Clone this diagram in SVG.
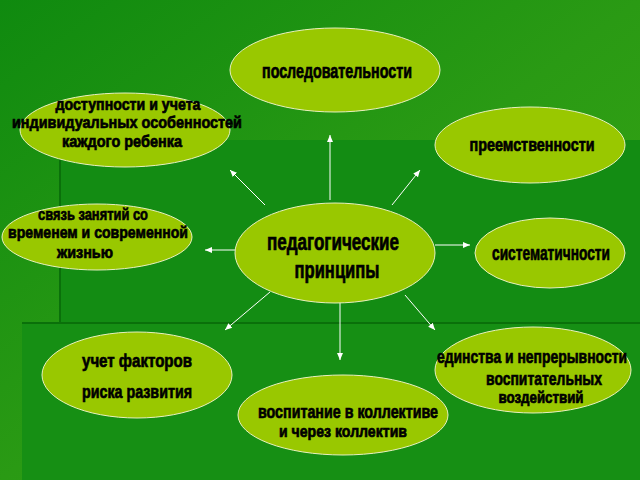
<svg xmlns="http://www.w3.org/2000/svg" width="640" height="480" viewBox="0 0 640 480">
<defs>
<linearGradient id="bg" x1="0" y1="0" x2="1" y2="1"><stop offset="0" stop-color="#0f8a0f"/><stop offset="0.5" stop-color="#2a9a14"/><stop offset="1" stop-color="#3aa812"/></linearGradient>
<marker id="ah" markerWidth="8" markerHeight="8" refX="7" refY="4" orient="auto" markerUnits="userSpaceOnUse"><path d="M0,1 L7,4 L0,7 Z" fill="#fff"/></marker>
<style>
.n{fill:#99c800;stroke:#e8f0c0;stroke-width:1}
.t{font-family:"Liberation Sans",Arial,sans-serif;font-weight:bold;fill:#000;stroke:#000;stroke-width:0.7;text-anchor:middle}
.c{stroke:#fff;stroke-width:1;marker-end:url(#ah);fill:none}
</style>
</defs>
<rect width="640" height="480" fill="url(#bg)"/>
<rect x="60" y="140" width="580" height="340" fill="#138c13"/>
<rect x="22" y="323" width="618" height="157" fill="#168f14"/>
<line x1="60" y1="140" x2="60" y2="323" stroke="#0a700a" stroke-width="2"/>
<line x1="22" y1="323" x2="640" y2="323" stroke="#0a700a" stroke-width="2"/>
<g id="connectors">
<line class="c" x1="330" y1="200" x2="330" y2="135"/>
<line class="c" x1="265" y1="205" x2="230" y2="170"/>
<line class="c" x1="392" y1="205" x2="420" y2="170"/>
<line class="c" x1="235" y1="250" x2="205" y2="250"/>
<line class="c" x1="435" y1="245" x2="470" y2="245"/>
<line class="c" x1="270" y1="292" x2="225" y2="330"/>
<line class="c" x1="340" y1="302" x2="340" y2="360"/>
<line class="c" x1="405" y1="295" x2="435" y2="330"/>
</g>
<g id="n1"><ellipse class="n" cx="335" cy="70" rx="105" ry="42"/><text class="t" x="337" y="78" font-size="20" textLength="150" lengthAdjust="spacingAndGlyphs">последовательности</text></g>
<g id="n2"><ellipse class="n" cx="125" cy="130" rx="105" ry="37"/>
<text class="t" x="128" y="110" font-size="17" textLength="145" lengthAdjust="spacingAndGlyphs">доступности и учета</text>
<text class="t" x="127" y="128" font-size="17" textLength="230" lengthAdjust="spacingAndGlyphs">индивидуальных особенностей</text>
<text class="t" x="122" y="147" font-size="17" textLength="120" lengthAdjust="spacingAndGlyphs">каждого ребенка</text></g>
<g id="n3"><ellipse class="n" cx="530" cy="145" rx="95" ry="38"/><text class="t" x="532" y="151" font-size="18" textLength="125" lengthAdjust="spacingAndGlyphs">преемственности</text></g>
<g id="n4"><ellipse class="n" cx="97" cy="237" rx="95" ry="33"/>
<text class="t" x="93" y="220" font-size="17" textLength="110" lengthAdjust="spacingAndGlyphs">связь занятий со</text>
<text class="t" x="98" y="238" font-size="17" textLength="180" lengthAdjust="spacingAndGlyphs">временем и современной</text>
<text class="t" x="85" y="258" font-size="17" textLength="56" lengthAdjust="spacingAndGlyphs">жизнью</text></g>
<g id="n5"><ellipse class="n" cx="335" cy="253" rx="100" ry="50"/>
<text class="t" x="333" y="250" font-size="23" textLength="132" lengthAdjust="spacingAndGlyphs">педагогические</text>
<text class="t" x="337" y="278" font-size="23" textLength="85" lengthAdjust="spacingAndGlyphs">принципы</text></g>
<g id="n6"><ellipse class="n" cx="550" cy="253" rx="75" ry="35"/><text class="t" x="551" y="260" font-size="20" textLength="118" lengthAdjust="spacingAndGlyphs">систематичности</text></g>
<g id="n7"><ellipse class="n" cx="137" cy="375" rx="95" ry="43"/>
<text class="t" x="137" y="367" font-size="19" textLength="110" lengthAdjust="spacingAndGlyphs">учет факторов</text>
<text class="t" x="137" y="398" font-size="19" textLength="110" lengthAdjust="spacingAndGlyphs">риска развития</text></g>
<g id="n8"><ellipse class="n" cx="533" cy="370" rx="98" ry="43"/>
<text class="t" x="532" y="363" font-size="19" textLength="190" lengthAdjust="spacingAndGlyphs">единства и непрерывности</text>
<text class="t" x="544" y="385" font-size="19" textLength="116" lengthAdjust="spacingAndGlyphs">воспитательных</text>
<text class="t" x="541" y="403" font-size="16" textLength="85" lengthAdjust="spacingAndGlyphs">воздействий</text></g>
<g id="n9"><ellipse class="n" cx="343" cy="415" rx="105" ry="40"/>
<text class="t" x="348" y="418" font-size="19" textLength="180" lengthAdjust="spacingAndGlyphs">воспитание в коллективе</text>
<text class="t" x="343" y="437" font-size="17" textLength="128" lengthAdjust="spacingAndGlyphs">и через коллектив</text></g>
</svg>
